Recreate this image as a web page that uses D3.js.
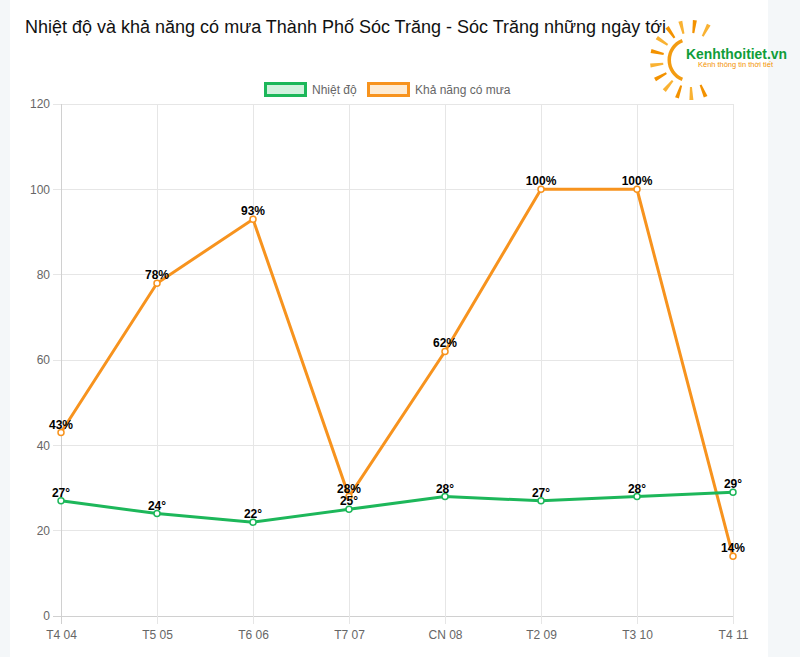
<!DOCTYPE html>
<html><head><meta charset="utf-8">
<script src="https://cdn.jsdelivr.net/npm/d3@7/dist/d3.min.js"></script>
<style>body{margin:0;background:#f4f7f9;}svg{display:block;}</style>
</head><body>
<svg id="c" width="800" height="657"></svg>
<script>
const categories = ["T4 04","T5 05","T6 06","T7 07","CN 08","T2 09","T3 10","T4 11"];
const temperature = [27,24,22,25,28,27,28,29];
const rainChance = [43,78,93,28,62,100,100,14];
const yTicks = [0,20,40,60,80,100,120];
const seriesNames = ["Nhiệt độ","Khả năng có mưa"];
const title = "Nhiệt độ và khả năng có mưa Thành Phố Sóc Trăng - Sóc Trăng những ngày tới";

const green = "#1db75a", orange = "#f7931e";
const svg = d3.select("#c");
const font = "'Liberation Sans', Arial, sans-serif";

svg.append("rect").attr("x",10).attr("y",0).attr("width",758).attr("height",657).attr("fill","#fff");

svg.append("text").attr("x",25).attr("y",33).attr("font-family",font).attr("font-size",18)
  .attr("fill","#111").text(title);

const x = d3.scalePoint().domain(categories).range([61,733]);
const y = d3.scaleLinear().domain([0,120]).range([616,104]);

const g = svg.append("g");
g.selectAll(".hg").data(yTicks).join("line")
  .attr("x1",53).attr("x2",733).attr("y1",d=>y(d)).attr("y2",d=>y(d))
  .attr("stroke",d=>d===0?"#d0d0d0":"#e6e6e6").attr("stroke-width",1).attr("shape-rendering","crispEdges");
g.selectAll(".vg").data(categories).join("line")
  .attr("x1",d=>x(d)).attr("x2",d=>x(d)).attr("y1",104).attr("y2",624)
  .attr("stroke",(d,i)=>i===0?"#d0d0d0":"#e6e6e6").attr("stroke-width",1).attr("shape-rendering","crispEdges");

const yAxis = d3.axisLeft(y).tickValues(yTicks).tickSize(0).tickPadding(11);
const ya = svg.append("g").attr("transform","translate(61,0)").call(yAxis);
ya.select(".domain").remove();
ya.selectAll("text").attr("font-family",font).attr("font-size",12).attr("fill","#666");

const xAxis = d3.axisBottom(x).tickSize(0).tickPadding(14);
const xa = svg.append("g").attr("transform","translate(0,616)").call(xAxis);
xa.select(".domain").remove();
xa.selectAll("text").attr("font-family",font).attr("font-size",12).attr("fill","#666");

// legend
const leg = svg.append("g").attr("font-family",font).attr("font-size",12);
leg.append("rect").attr("x",265.5).attr("y",83.5).attr("width",40).attr("height",12)
  .attr("fill","#d2f1de").attr("stroke",green).attr("stroke-width",3);
leg.append("text").attr("x",312).attr("y",94).attr("fill","#666").text(seriesNames[0]);
leg.append("rect").attr("x",368.5).attr("y",83.5).attr("width",40).attr("height",12)
  .attr("fill","#fdebd3").attr("stroke",orange).attr("stroke-width",3);
leg.append("text").attr("x",415).attr("y",94).attr("fill","#666").text(seriesNames[1]);

const line = d3.line().x((d,i)=>x(categories[i])).y(d=>y(d));
function drawSeries(data,color){
  const s = svg.append("g");
  s.append("path").datum(data).attr("d",line).attr("fill","none").attr("stroke",color)
    .attr("stroke-width",3).attr("stroke-linejoin","miter");
  s.selectAll("circle").data(data).join("circle")
    .attr("cx",(d,i)=>x(categories[i])).attr("cy",d=>y(d)).attr("r",3)
    .attr("fill","#fff").attr("stroke",color).attr("stroke-width",1.5);
}
drawSeries(rainChance,orange);
drawSeries(temperature,green);

const labels = svg.append("g").attr("font-family",font).attr("font-size",12).attr("font-weight","bold")
  .attr("text-anchor","middle").attr("fill","#000");
labels.selectAll(".tl").data(temperature).join("text")
  .attr("x",(d,i)=>x(categories[i])).attr("y",d=>y(d)-4).text(d=>d+"°");
labels.selectAll(".rl").data(rainChance).join("text")
  .attr("x",(d,i)=>x(categories[i])).attr("y",d=>y(d)-4).text(d=>d+"%");

// logo
const logo = svg.append("g").attr("transform","translate(690,60)");
const angles = d3.range(62, 310, 21);
logo.selectAll("path.ray").data(angles).join("path").attr("class","ray")
  .attr("d",a=>{
    const r = a*Math.PI/180, c=Math.cos(r), s=-Math.sin(r), px=-s, py=c;
    const r1=27, r2=40, w1=1.0, w2=2.0;
    return `M${r1*c+px*w1},${r1*s+py*w1}L${r2*c+px*w2},${r2*s+py*w2}L${r2*c-px*w2},${r2*s-py*w2}L${r1*c-px*w1},${r1*s-py*w1}Z`;
  })
  .attr("fill",(a,i)=>i%2?"#f39200":"#f9b233");
logo.append("path").attr("d",d3.arc().innerRadius(19).outerRadius(22.5).startAngle(Math.PI*0.12).endAngle(Math.PI*0.88)())
  .attr("transform","rotate(180)").attr("fill","#f39c12");
logo.append("text").attr("x",-4).attr("y",-1).attr("font-family",font)
  .attr("font-weight","bold").attr("font-size",14).attr("fill","#0f9d3a")
  .attr("textLength",101).attr("lengthAdjust","spacingAndGlyphs").text("Kenhthoitiet.vn");
logo.append("text").attr("x",8).attr("y",7).attr("font-family",font).attr("font-size",6.5)
  .attr("fill","#f39200").attr("textLength",75).attr("lengthAdjust","spacingAndGlyphs")
  .text("Kênh thông tin thời tiết");
</script>
</body></html>
